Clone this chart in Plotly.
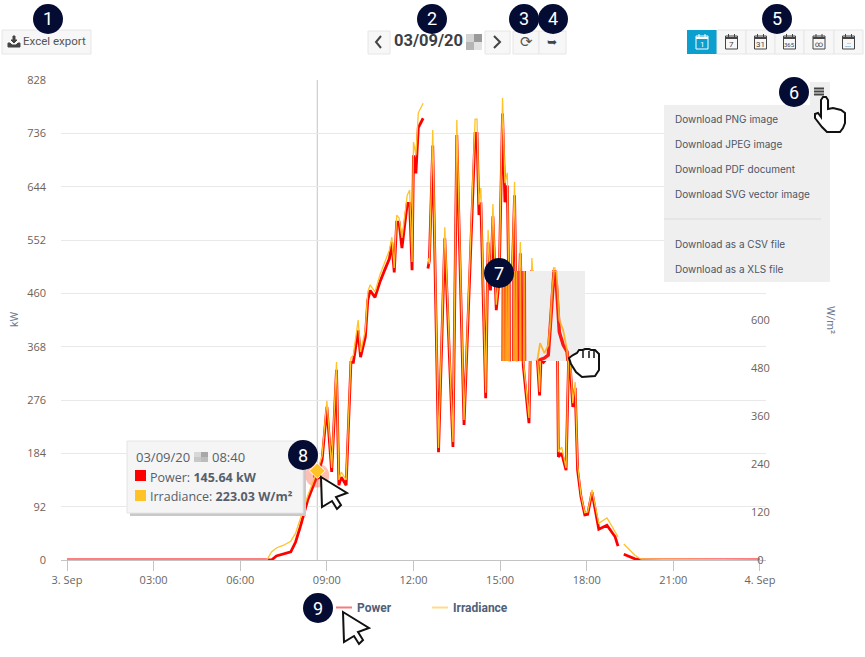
import plotly.graph_objects as go

# clock time, power in kW, irradiance in W/m2 (None = gap in the line)
times = ["00:00", "06:55", "07:05", "07:15", "07:30", "07:45", "07:55", "08:05", "08:20", "08:40",
         "08:50", "09:00", "09:10", "09:20", "09:25", "09:30", "09:40", "09:50", "09:55", "10:05",
         "10:10", "10:20", "10:25", "10:30", "10:40", "10:50", "11:00", "11:10", "11:15", "11:20",
         "11:25", "11:30", "11:36", "11:47", "11:52", "11:57", "12:00", "12:05", "12:10", "12:20",
         "12:25", "12:30", "12:33", "12:40", "12:52", "13:05", "13:22", "13:30", "13:45", "14:08",
         "14:12", "14:16", "14:20", "14:30", "14:35", "14:40", "14:45", "14:52", "14:58", "15:05",
         "15:10", "15:15", "15:20", "15:30", "15:35", "15:42", "15:48", "16:00", "16:06", "16:22",
         "16:25", "16:30", "16:38", "16:45", "16:51", "16:54", "16:57", "16:59", "17:01", "17:08",
         "17:17", "17:23", "17:31", "17:36", "17:41", "17:48", "17:56", "18:02", "18:11", "18:25",
         "18:42", "18:52", "18:59", "19:05", "19:11", "19:17", "19:30", "19:40", "19:53", "24:00"]
power = [0, 0, 0, 7, 10, 14, 31, 58, 103, 145.64,
         172, 264, 152, 328, 129, 143, 129, 341, 341, 396,
         350, 385, 448, 465, 453, 479, 500, 520, 548, 496,
         583, 583, 538, 615, 615, 500, 698, 667, 746, 762,
         None, 503, 517, 715, 186, 555, 195, 733, 233, 736,
         736, 595, 617, 279, 548, 465, 593, 431, 483, 770,
         617, 646, 343, 629, 343, 529, 336, 236, 500, 284,
         345, 341, 348, 440, 498, 498, 397, 371, 178, 184,
         155, 371, 264, 297, 155, 109, 78, 79, 117, 53,
         60, 47, 40, 24, None, 10, 5, 2, 0, 0]
irradiance = [0, 0, 20, 30, 37, 47, 67, 102, 160, 223.03,
              260, 398, 230, 495, 200, 220, 200, 505, 512, 600,
              520, 575, 670, 688, 670, 712, 745, 775, 807, 730,
              862, 855, 805, 912, 925, 745, 1045, 1012, 1118, 1142,
              None, 755, 740, 1075, 280, 832, 295, 1100, 350, 1102,
              1102, 888, 930, 418, 825, 688, 890, 638, 712, 1155,
              942, 968, 498, 945, 505, 795, 500, 355, 755, 420,
              542, 505, 525, 662, 730, 730, 580, 570, 270, 282,
              230, 562, 392, 445, 238, 163, 118, 120, 175, 92,
              105, 85, 72, 58, None, 40, 25, 12, 2, 0]

# what shows inside the grey drag thumbnail
inset_times = ["15:06", "15:07", "15:08", "15:12", "15:13", "15:14", "15:17", "15:18", "15:19",
               "15:28", "15:29", "15:30", "15:33", "15:34", "15:35", "15:41", "15:42", "15:43",
               "15:49", "15:50", "15:51", "15:57", "16:17", "16:23", "16:32", "16:40", "16:44",
               "16:48", "16:52", "16:57", "17:01", "17:03", "17:11", "17:19", "17:21", "17:25"]
inset_power = [300, 560, 300, 300, 560, 300, 300, 560, 300,
               300, 560, 300, 300, 560, 300, 300, 560, 300,
               300, 560, 300, 330, 341, 345, 348, 353, 400,
               452, 497, 474, 422, 393, 371, 359, 343, 330]
inset_irradiance = [460, 760, 460, 460, 760, 460, 460, 760, 460,
                    460, 760, 460, 460, 760, 460, 460, 760, 460,
                    460, 760, 460, 460, 497, 542, 517, 537, 587,
                    675, 722, 722, 650, 600, 575, 525, 497, 460]
inset_x_range = ["2024-09-03 15:01:48", "2024-09-03 17:56:22"]
inset_power_range = [343, 498]
inset_irradiance_range = [497.5, 722.5]

hover_time = "08:40"
hover_power = 145.64
hover_irradiance = 223.03

power_ticks = [0, 92, 184, 276, 368, 460, 552, 644, 736, 828]
irradiance_ticks = [0, 120, 240, 360, 480, 600]
irradiance_tick_labels = ["\u20070", "120", "240", "360", "480", "600"]
x_tick_times = ["2024-09-03 00:00", "2024-09-03 03:00", "2024-09-03 06:00", "2024-09-03 09:00",
                "2024-09-03 12:00", "2024-09-03 15:00", "2024-09-03 18:00", "2024-09-03 21:00",
                "2024-09-04 00:00"]
x_tick_labels = ["3. Sep", "03:00", "06:00", "09:00", "12:00", "15:00", "18:00", "21:00", "4. Sep"]

menu_items = ["Download PNG image", "Download JPEG image", "Download PDF document",
              "Download SVG vector image", "Download as a CSV file", "Download as a XLS file"]
menu_rows = [119, 144, 169, 194, 244, 269]

RED = "#ff0000"
YELLOW = "#ffc227"
TEXT = "#5b6470"
LEFT, RIGHT, TOP, BOTTOM = 61, 766, 80, 560


def stamp(t):
    if t == "24:00":
        return "2024-09-04 00:00"
    return "2024-09-03 " + t


def px(x):
    return (x - LEFT) / (RIGHT - LEFT)


def py(y):
    return (BOTTOM - y) / (BOTTOM - TOP)


def rect(fig, x0, y0, x1, y1, fill, line=None, layer="above"):
    fig.add_shape(type="rect", xref="paper", yref="paper", x0=px(x0), x1=px(x1), y0=py(y0), y1=py(y1),
                  fillcolor=fill, line=dict(color=line, width=1) if line else dict(width=0), layer=layer)


def poly(fig, points, fill=None, color="#000000", width=1.5, closed=True):
    path = "M " + " L ".join(f"{px(x):.5f} {py(y):.5f}" for x, y in points)
    if closed:
        path += " Z"
    fig.add_shape(type="path", xref="paper", yref="paper", path=path,
                  fillcolor=fill if fill else "rgba(0,0,0,0)", line=dict(color=color, width=width))


def label(fig, x, y, text, size=11, color=TEXT, anchor="left", family="Roboto", angle=0):
    fig.add_annotation(xref="paper", yref="paper", x=px(x), y=py(y), text=text, showarrow=False,
                       xanchor=anchor, yanchor="middle", textangle=angle,
                       font=dict(size=size, color=color, family=family), borderpad=0, borderwidth=0)


def arrow_cursor(fig, x, y):
    shape = [(0, 0), (26, 16), (15, 20), (20, 28), (16, 32), (11, 24), (1, 30)]
    poly(fig, [(x + a, y + b) for a, b in shape], fill="#ffffff", color="#111111", width=2)


def calendar(fig, cx, text, color, size=7):
    rect(fig, cx - 6, 36, cx + 6, 49, "rgba(0,0,0,0)", color)
    poly(fig, [(cx - 6, 38), (cx + 6, 38)], color=color, width=2, closed=False)
    poly(fig, [(cx - 3, 34), (cx - 3, 37)], color=color, width=1, closed=False)
    poly(fig, [(cx + 3, 34), (cx + 3, 37)], color=color, width=1, closed=False)
    label(fig, cx, 44, text, size=size, color=color, anchor="center")


x_stamps = [stamp(t) for t in times]
inset_stamps = [stamp(t) for t in inset_times]
fig = go.Figure()
fig.add_trace(go.Scatter(x=x_stamps, y=power, mode="lines", name="Power", yaxis="y",
                         line=dict(color=RED, width=2.8), connectgaps=False))
fig.add_trace(go.Scatter(x=x_stamps, y=irradiance, mode="lines", name="Irradiance", yaxis="y2",
                         line=dict(color=YELLOW, width=1.3), connectgaps=False))
fig.add_trace(go.Scatter(x=[stamp(hover_time)], y=[hover_power], mode="markers", yaxis="y",
                         marker=dict(color="rgba(255,70,40,0.35)", size=24), showlegend=False))
fig.add_trace(go.Scatter(x=[stamp(hover_time)], y=[hover_power], mode="markers", yaxis="y",
                         marker=dict(color=RED, size=8), showlegend=False))
fig.add_trace(go.Scatter(x=[stamp(hover_time)], y=[hover_irradiance], mode="markers", yaxis="y2",
                         marker=dict(color=YELLOW, size=12, symbol="diamond", line=dict(color="#ffffff", width=1)),
                         showlegend=False))

# grey thumbnail is its own little subplot, drawn over the main lines
fig.add_trace(go.Scatter(x=inset_x_range, y=[inset_power_range[1], inset_power_range[1]], mode="none",
                         fill="tozeroy", fillcolor="#eeeeee", xaxis="x3", yaxis="y3", showlegend=False))
fig.add_trace(go.Scatter(x=inset_stamps, y=inset_power, mode="lines", xaxis="x3", yaxis="y3",
                         line=dict(color=RED, width=3.4), opacity=0.9, showlegend=False))
fig.add_trace(go.Scatter(x=inset_stamps, y=inset_irradiance, mode="lines", xaxis="x3", yaxis="y4",
                         line=dict(color="#ffb01f", width=1.8), opacity=0.9, showlegend=False))

fig.update_layout(
    width=865,
    height=657,
    margin=dict(l=LEFT, r=865 - RIGHT, t=TOP, b=657 - BOTTOM),
    plot_bgcolor="#ffffff",
    paper_bgcolor="#ffffff",
    showlegend=False,
    font=dict(family="Open Sans", size=11, color="#666666"),
    xaxis=dict(type="date", range=["2024-09-02 23:47:30", "2024-09-04 00:12:30"],
               tickvals=x_tick_times, ticktext=x_tick_labels, showgrid=False,
               ticks="outside", ticklen=10, tickcolor="#c4c4c4", showline=True, linecolor="#c4c4c4",
               tickfont=dict(size=11, color="#666666")),
    yaxis=dict(range=[0, 828], tickvals=power_ticks, showgrid=True, gridcolor="#e9e9e9", zeroline=False,
               ticks="", ticklabelstandoff=14, tickfont=dict(size=11, color="#6e6259")),
    yaxis2=dict(range=[0, 1200], tickvals=irradiance_ticks, ticktext=irradiance_tick_labels,
                overlaying="y", side="right", anchor="free",
                position=px(750), showgrid=False, zeroline=False, ticks="",
                tickfont=dict(size=11, color="#6e6259")),
    xaxis3=dict(type="date", domain=[px(501), px(585)], range=inset_x_range, anchor="y3", visible=False),
    yaxis3=dict(domain=[py(361), py(271)], range=inset_power_range, anchor="x3", visible=False),
    yaxis4=dict(range=inset_irradiance_range, overlaying="y3", anchor="x3", visible=False),
)

fig.add_shape(type="line", xref="x", yref="paper", x0=stamp(hover_time), x1=stamp(hover_time), y0=0, y1=1,
              line=dict(color="#c4c4c4", width=1), layer="between")

# axis titles
label(fig, 14, 319, "kW", color="#6b7a90", anchor="center", angle=-90)
label(fig, 831, 320, "W/m²", color="#6b7a90", anchor="center", angle=90)

# toolbar
rect(fig, 2, 30, 91, 54, "#f7f7f7", "#e6e6e6")
poly(fig, [(13, 36), (13, 40), (11, 40), (14, 43), (17, 40), (15, 40), (15, 36)], fill="#444444", color="#444444", width=1)
poly(fig, [(8, 43), (10, 43), (12, 45), (16, 45), (18, 43), (20, 43), (20, 47), (8, 47)], fill="#444444", color="#444444", width=1)
label(fig, 23, 41, "Excel export", size=11.5, color="#555555")

rect(fig, 368, 31, 390, 54, "#f7f7f7", "#e6e6e6")
poly(fig, [(381, 36), (376, 42), (381, 48)], color="#444444", width=2, closed=False)
label(fig, 394, 41, "<b>03/09/20</b>", size=16.5, color="#3c3f46")
for bx, by, shade in [(466, 34, "#d4d4d4"), (474, 34, "#9a9a9a"), (466, 42, "#b5b5b5"), (474, 42, "#e2e2e2")]:
    rect(fig, bx, by, bx + 8, by + 8, shade)
rect(fig, 485, 31, 510, 54, "#f7f7f7", "#e6e6e6")
poly(fig, [(494, 36), (500, 42), (494, 48)], color="#444444", width=2, closed=False)
rect(fig, 513, 31, 539, 54, "#f7f7f7", "#e6e6e6")
label(fig, 526, 42, "⟳", size=15, color="#555555", anchor="center", family="DejaVu Sans")
rect(fig, 539, 31, 566, 54, "#f7f7f7", "#e6e6e6")
label(fig, 552, 42, "➥", size=12, color="#444444", anchor="center", family="DejaVu Sans")

range_edges = [687, 717, 746, 775, 804, 834, 863]
rect(fig, range_edges[0], 30, range_edges[1], 54, "#0a9fcf")
for i in range(1, 6):
    rect(fig, range_edges[i], 30, range_edges[i + 1], 54, "#f7f7f7", "#e6e6e6")
range_labels = ["1", "7", "31", "365", "∞", ".::"]
for i, text in enumerate(range_labels):
    cx = (range_edges[i] + range_edges[i + 1]) / 2
    calendar(fig, cx, text, "#ffffff" if i == 0 else "#444444", size=6 if text == "365" else 8)

# export menu
rect(fig, 810, 82, 830, 105, "#efefef")
rect(fig, 664, 105, 830, 282, "#efefef")
for my in [88.5, 91.5, 94.5]:
    poly(fig, [(814, my), (824, my)], color="#444444", width=2, closed=False)
poly(fig, [(664, 219), (821, 219)], color="#dcdcdc", width=1, closed=False)
for item, row in zip(menu_items, menu_rows):
    label(fig, 675, row, item, size=10, color="#4d5566", family="Inter")

# tooltip
rect(fig, 130, 444, 306, 516, "#c9c9c9")
rect(fig, 127, 441, 303, 513, "#f5f5f5", "#e4e4e4")
label(fig, 136, 457, "03/09/20", size=13, color="#56606b", family="Open Sans")
for bx, by, shade in [(194, 452, "#d8d8d8"), (201, 452, "#a8a8a8"), (194, 457, "#c8c8c8"), (201, 457, "#bcbcbc")]:
    rect(fig, bx, by, bx + 7, by + 5, shade)
label(fig, 212, 457, "08:40", size=13, color="#56606b", family="Open Sans")
rect(fig, 135, 470, 146, 481, RED)
rect(fig, 135, 490, 146, 501, YELLOW)
label(fig, 150, 477, f"Power: <b>{hover_power} kW</b>", size=12.5, color="#56606b", family="Open Sans")
label(fig, 150, 496, f"Irradiance: <b>{hover_irradiance} W/m²</b>", size=12.5, color="#56606b", family="Open Sans")

# legend
poly(fig, [(336, 607.5), (352, 607.5)], color="#f47c7c", width=2, closed=False)
label(fig, 357, 607.5, "<b>Power</b>", size=12, color="#4f6079")
poly(fig, [(432, 607.5), (448, 607.5)], color="#ffdc8a", width=2, closed=False)
label(fig, 453, 607.5, "<b>Irradiance</b>", size=12, color="#4f6079")

# cursors
arrow_cursor(fig, 321, 477)
arrow_cursor(fig, 343, 612)
poly(fig, [(821, 100), (823, 97), (826, 97), (828, 100), (828, 109), (833, 108), (837, 109), (841, 110),
           (845, 113), (845, 123), (843, 128), (840, 132), (827, 132), (822, 127), (815, 118), (815, 114),
           (818, 113), (821, 117)], fill="#ffffff", color="#111111", width=2)
poly(fig, [(569, 358), (573, 355), (577, 353), (579, 350), (583, 350), (585, 349), (589, 349), (591, 350),
           (595, 350), (599, 354), (599, 370), (595, 376), (582, 377), (576, 372), (571, 364)],
     fill="#ffffff", color="#111111", width=2)
for fx in [583, 589, 594]:
    poly(fig, [(fx, 351), (fx, 358)], color="#111111", width=1.5, closed=False)

# numbered callouts
callouts = [(48, 19), (432, 19), (524, 19), (553, 19), (777, 19), (794, 92), (499, 273), (303, 455), (318, 608)]
for n, (cx, cy) in enumerate(callouts, start=1):
    fig.add_shape(type="circle", xref="paper", yref="paper", x0=px(cx - 15), x1=px(cx + 15),
                  y0=py(cy + 15), y1=py(cy - 15), fillcolor="#050c33", line=dict(width=0))
    label(fig, cx, cy, str(n), size=18, color="#ffffff", anchor="center", family="Roboto")

fig.write_html("out.html", config=dict(displayModeBar=False),
               post_script="document.body.style.margin='0';document.body.style.overflow='hidden';")
